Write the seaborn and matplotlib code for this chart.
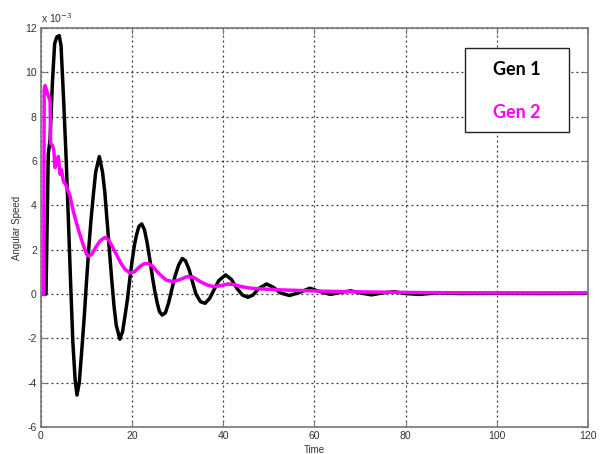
import numpy as np
import pandas as pd
import matplotlib
matplotlib.use("Agg")
import matplotlib.pyplot as plt
from matplotlib.patches import Rectangle
import seaborn as sns

# ---- data (angular speed in units of 1e-3) ----
gen1_t = [0, 1.1, 1.6, 2.0, 2.5, 3.0, 3.5, 4.0, 4.4, 5.0, 5.5, 6.0, 6.5, 7.0, 7.5, 7.9,
          8.4, 9.0, 9.5, 10.0, 10.5, 11.0, 11.5, 12.0, 12.8, 13.5, 14.0, 14.5, 15.0, 15.5,
          16.0, 16.5, 17.3, 17.9, 18.5, 19.0, 19.5, 20.0, 20.5, 21.0, 21.5, 22.1, 22.7,
          23.3, 24.0, 24.5, 25.0, 25.5, 26.0, 26.6, 27.3, 28.0, 28.7, 29.4, 30.2, 31.0,
          31.7, 32.5, 33.3, 34.0, 35.0, 36.0, 37.0, 38.0, 39.0, 40.5, 41.8, 43.0, 44.2,
          45.4, 46.5, 47.8, 49.5, 51.0, 52.5, 54.5, 56.5, 59.0, 61.0, 63.5, 66.0, 68.0,
          70.0, 72.5, 75.0, 77.5, 80.0, 83.0, 87.0, 92.0, 100.0, 110.0, 120.0]
gen1_v = [0, 0, 6.3, 7.0, 9.5, 11.3, 11.6, 11.65, 11.2, 8.6, 6.2, 3.4, 0.5, -2.2, -3.9, -4.56,
          -4.0, -2.4, -1.0, 0.6, 2.1, 3.4, 4.5, 5.5, 6.2, 5.5, 4.6, 3.3, 2.0, 0.7,
          -0.5, -1.4, -2.04, -1.7, -0.9, -0.2, 0.7, 1.5, 2.2, 2.7, 3.05, 3.16, 2.9,
          2.3, 1.4, 0.7, 0.1, -0.4, -0.8, -0.95, -0.85, -0.4, 0.2, 0.8, 1.3, 1.6,
          1.5, 1.1, 0.5, 0.0, -0.35, -0.42, -0.2, 0.2, 0.6, 0.86, 0.65, 0.25, -0.05,
          -0.15, -0.05, 0.25, 0.45, 0.3, 0.05, -0.07, 0.05, 0.26, 0.12, -0.02, 0.08, 0.14,
          0.05, -0.04, 0.05, 0.1, 0.02, -0.02, 0.05, 0.02, 0.03, 0.02, 0.03]

gen2_t = [0, 0.6, 0.7, 0.9, 1.5, 2.0, 2.1, 2.5, 2.8, 3.1, 3.5, 3.8, 4.2, 4.5, 4.9, 5.5,
          6.4, 7.0, 7.8, 8.5, 9.3, 10.0, 10.5, 11.2, 12.0, 13.0, 14.0, 14.8, 15.5, 16.5,
          17.5, 18.5, 19.5, 20.5, 21.5, 22.5, 23.5, 24.5, 25.5, 26.5, 27.5, 29.0, 30.5,
          32.0, 33.5, 35.0, 36.5, 38.0, 39.5, 41.0, 42.5, 44.0, 46.0, 49.0, 53.0, 58.0,
          63.0, 68.0, 75.0, 85.0, 100.0, 120.0]
gen2_v = [0, 0, 9.2, 9.4, 9.0, 8.7, 6.8, 6.7, 6.5, 5.7, 6.0, 6.2, 5.4, 5.6, 5.1, 4.9,
          4.4, 3.8, 3.2, 2.7, 2.2, 1.8, 1.7, 1.8, 2.1, 2.4, 2.55, 2.45, 2.2, 1.8,
          1.4, 1.1, 0.95, 1.0, 1.2, 1.35, 1.38, 1.25, 1.0, 0.8, 0.62, 0.56, 0.65,
          0.78, 0.75, 0.55, 0.4, 0.33, 0.38, 0.45, 0.42, 0.33, 0.26, 0.22, 0.18, 0.15,
          0.12, 0.1, 0.08, 0.06, 0.05, 0.05]

series_names = ["Gen 1", "Gen 2"]
series_colors = ["#000000", "#ff00ff"]
x_ticks = [0, 20, 40, 60, 80, 100, 120]
y_ticks = [-6, -4, -2, 0, 2, 4, 6, 8, 10, 12]

df = pd.concat([
    pd.DataFrame({"Time": gen1_t, "Angular Speed": gen1_v, "Gen": series_names[0]}),
    pd.DataFrame({"Time": gen2_t, "Angular Speed": gen2_v, "Gen": series_names[1]}),
], ignore_index=True)

sns.set_style("white")
plt.rcParams["font.family"] = ["Liberation Sans", "DejaVu Sans"]

fig = plt.figure(figsize=(6.01, 4.54), dpi=100)
ax = fig.add_axes([0.0682, 0.0595, 0.910, 0.879])

sns.lineplot(data=df, x="Time", y="Angular Speed", hue="Gen",
             palette=dict(zip(series_names, series_colors)),
             estimator=None, sort=False, linewidth=2.5, ax=ax, legend=False)
for ln in ax.get_lines():
    ln.set_solid_joinstyle("round")
    ln.set_solid_capstyle("round")

ax.set_xlim(0, 120)
ax.set_ylim(-6, 12)
ax.set_xticks(x_ticks)
ax.set_xticklabels([str(v) for v in x_ticks])
ax.set_yticks(y_ticks)
ax.set_yticklabels([str(v) for v in y_ticks])

ax.grid(True, linestyle=(0, (1.5, 2.5)), color="#333333", linewidth=0.9)
ax.set_axisbelow(True)
for sp in ax.spines.values():
    sp.set_color("#777777")
    sp.set_linewidth(1.2)
ax.tick_params(axis="both", direction="in", length=4, width=0.8, color="#777777",
               labelsize=7.5, labelcolor="#333333", top=True, right=True,
               bottom=True, left=True, pad=3)

ax.set_xlabel("Time", fontsize=7, color="#333333", labelpad=3)
ax.set_ylabel("Angular Speed", fontsize=7, color="#333333", labelpad=2)

# exponent marker at top-left
ax.text(0.0, 1.008, "x 10$^{-3}$", transform=ax.transAxes, ha="left", va="bottom",
        fontsize=7.5, color="#333333")

# legend box
ax.add_patch(Rectangle((0.775, 0.739), 0.19, 0.211, transform=ax.transAxes,
                       facecolor="white", edgecolor="#222222", linewidth=1.0, zorder=5))
ax.text(0.87, 0.895, series_names[0], transform=ax.transAxes, ha="center", va="center",
        fontsize=13, fontweight="bold", color=series_colors[0], zorder=6,
        family=["Lato", "DejaVu Sans"])
ax.text(0.87, 0.788, series_names[1], transform=ax.transAxes, ha="center", va="center",
        fontsize=13, fontweight="bold", color=series_colors[1], zorder=6,
        family=["Lato", "DejaVu Sans"])

fig.savefig("out.png", dpi=100, facecolor="white")
